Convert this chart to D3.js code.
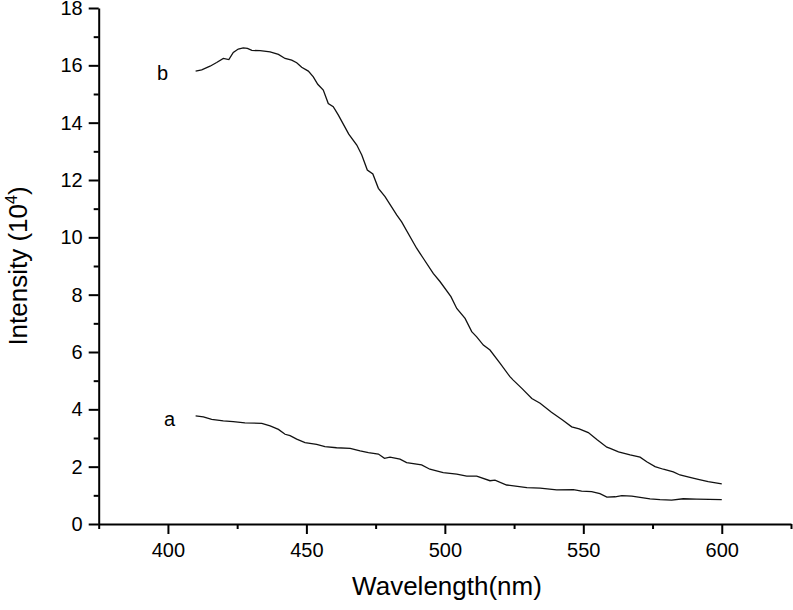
<!DOCTYPE html>
<html>
<head>
<meta charset="utf-8">
<script src="https://cdn.jsdelivr.net/npm/d3@7"></script>
<style>
  body { margin: 0; background: #fff; }
  svg text { font-family: "Liberation Sans", Arial, sans-serif; fill: #000; }
</style>
</head>
<body>
<div id="chart"></div>
<script>
const width = 793, height = 610;

// curve b (upper)
const bWave = [410, 412.2, 415.2, 417.6, 420, 422, 423.6, 425.4, 427.2, 428.7, 430.3, 433.3, 436.9, 439.9,
  442.3, 444.7, 446.5, 448.3, 450.7, 452.5, 454.1, 456.1, 457.9, 459.7, 461.5, 465.3, 468.2, 470, 472, 474,
  476, 478.4, 482.6, 484.4, 489.8, 492.2, 495.8, 498.3, 502.2, 504.3, 507.3, 509.7, 511.5, 513.9, 516.3,
  519.9, 523.5, 524.7, 527.8, 531.4, 534.4, 538.5, 542.5, 545.8, 548.5, 551.8, 555, 558.5, 559.7, 562.7,
  566.9, 570.5, 572.9, 575.9, 578.9, 582.5, 584.9, 588.5, 591.5, 595.1, 600];
const bInt = [15.80, 15.84, 15.97, 16.10, 16.24, 16.20, 16.45, 16.57, 16.61, 16.59, 16.52, 16.51, 16.47, 16.38,
  16.24, 16.18, 16.09, 15.93, 15.80, 15.60, 15.34, 15.14, 14.67, 14.56, 14.27, 13.60, 13.22, 12.87, 12.35, 12.21,
  11.71, 11.42, 10.78, 10.54, 9.62, 9.27, 8.74, 8.45, 7.93, 7.52, 7.17, 6.71, 6.53, 6.24, 6.07,
  5.61, 5.14, 5.02, 4.73, 4.38, 4.21, 3.90, 3.63, 3.39, 3.32, 3.19, 2.94, 2.68, 2.64, 2.52,
  2.41, 2.33, 2.17, 2.00, 1.91, 1.82, 1.71, 1.63, 1.56, 1.48, 1.40];

// curve a (lower)
const aWave = [410, 412.8, 415.8, 420, 423.6, 427.8, 433.9, 436.9, 439.9, 442.3, 444.1, 446.5, 449.5, 453.7,
  456.7, 460.9, 465.8, 469.4, 472.4, 476, 478.2, 480.2, 483.8, 486.2, 491.6, 494.6, 499.4, 504.3, 507.9,
  511.5, 516.3, 518.1, 522.3, 529.6, 534.4, 540.4, 546.4, 549.4, 553, 556, 558.5, 561.5, 563.9, 567.5,
  570.5, 574.1, 577.7, 581.9, 586.1, 590.9, 595.5, 600];
const aInt = [3.77, 3.74, 3.65, 3.60, 3.57, 3.53, 3.51, 3.42, 3.30, 3.13, 3.08, 2.96, 2.84, 2.78,
  2.70, 2.66, 2.64, 2.55, 2.49, 2.44, 2.29, 2.33, 2.26, 2.14, 2.06, 1.91, 1.79, 1.74, 1.67,
  1.67, 1.51, 1.53, 1.36, 1.27, 1.25, 1.19, 1.20, 1.15, 1.13, 1.06, 0.94, 0.95, 0.99, 0.97,
  0.93, 0.88, 0.85, 0.83, 0.88, 0.87, 0.86, 0.85];

const xTicks = [400, 450, 500, 550, 600];
const xMinor = [375, 425, 475, 525, 575, 625];
const yTicks = [0, 2, 4, 6, 8, 10, 12, 14, 16, 18];
const yMinor = [1, 3, 5, 7, 9, 11, 13, 15, 17];

const mLeft = 98.7, mRight = 791, mTop = 8, mBottom = 524;

const svg = d3.select("#chart").append("svg")
    .attr("width", width)
    .attr("height", height);

const x = d3.scaleLinear().domain([375, 625]).range([mLeft, mRight]);
const y = d3.scaleLinear().domain([0, 18]).range([mBottom, mTop]);

// minor ticks first, then major axis on top
svg.append("g")
    .attr("transform", `translate(0,${mBottom})`)
    .call(d3.axisBottom(x).tickValues(xMinor).tickSize(5).tickFormat(""))
    .call(g => g.select(".domain").remove());
svg.append("g")
    .attr("transform", `translate(${mLeft},0)`)
    .call(d3.axisLeft(y).tickValues(yMinor).tickSize(5).tickFormat(""))
    .call(g => g.select(".domain").remove());

svg.append("g")
    .attr("transform", `translate(0,${mBottom})`)
    .call(d3.axisBottom(x).tickValues(xTicks).tickSize(10).tickSizeOuter(0).tickPadding(9));
svg.append("g")
    .attr("transform", `translate(${mLeft},0)`)
    .call(d3.axisLeft(y).tickValues(yTicks).tickSize(10).tickSizeOuter(0).tickPadding(6));

svg.selectAll(".tick line").attr("stroke", "#000").attr("stroke-width", 2);
svg.selectAll(".domain").attr("stroke", "#000").attr("stroke-width", 2);
svg.selectAll(".tick text").style("font-size", "20px");

const line = d3.line()
    .x(d => x(d[0]))
    .y(d => y(d[1]));

const series = [
  { name: "b", pts: d3.zip(bWave, bInt) },
  { name: "a", pts: d3.zip(aWave, aInt) }
];

svg.selectAll(".curve")
    .data(series)
    .enter().append("path")
    .attr("class", "curve")
    .attr("d", d => line(d.pts))
    .attr("fill", "none")
    .attr("stroke", "#111")
    .attr("stroke-width", 1.3);

// curve labels
svg.append("text").attr("x", 157).attr("y", 80).style("font-size", "20px").text("b");
svg.append("text").attr("x", 164).attr("y", 426).style("font-size", "20px").text("a");

// axis titles
svg.append("text")
    .attr("x", 447).attr("y", 595)
    .attr("text-anchor", "middle")
    .style("font-size", "26px")
    .text("Wavelength(nm)");

const yt = svg.append("text")
    .attr("transform", `translate(27,${(mTop + mBottom) / 2}) rotate(-90)`)
    .attr("text-anchor", "middle")
    .style("font-size", "26px");
yt.append("tspan").text("Intensity (10");
yt.append("tspan").attr("dy", -10).style("font-size", "16px").text("4");
yt.append("tspan").attr("dy", 10).text(")");
</script>
</body>
</html>
